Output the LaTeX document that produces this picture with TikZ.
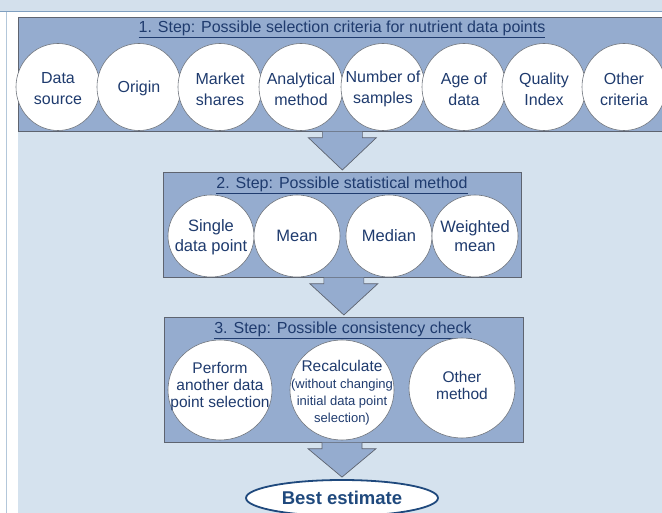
\documentclass[tikz,border=0pt]{standalone}
\usepackage{fontspec}
\setmainfont{Liberation Sans}
\usetikzlibrary{shapes.geometric,calc}
\definecolor{panel}{HTML}{D5E2EE}
\definecolor{topband}{HTML}{D3E0EC}
\definecolor{topline}{HTML}{7F9FC0}
\definecolor{sideline}{HTML}{B3C7DA}
\definecolor{boxfill}{HTML}{95ACCF}
\definecolor{boxline}{HTML}{5E6470}
\definecolor{circline}{HTML}{70757D}
\definecolor{txt}{HTML}{1F3B6E}
\definecolor{bestline}{HTML}{1F497D}
\newcommand\smalltxt{\fontsize{13}{15.5}\selectfont}
\tikzset{
  stepbox/.style={draw=boxline, line width=0.7pt, fill=boxfill, inner sep=0pt, anchor=north west},
  steptitle/.style={text=txt, font=\fontsize{16}{19}\selectfont, inner sep=0pt},
  crit/.style={ellipse, draw=circline, line width=0.6pt, fill=white, inner sep=0pt},
  ctext/.style={text=txt, align=center, inner sep=0pt, font=\fontsize{16}{21}\selectfont},
  ctext2/.style={ctext, font=\fontsize{16.5}{19.5}\selectfont},
  ctext3/.style={ctext, font=\fontsize{15.5}{17}\selectfont},
  blockarr/.style={draw=boxline, line width=0.7pt, fill=boxfill, line join=miter},
  best/.style={ellipse, draw=bestline, line width=1.8pt, fill=white, text=bestline,
     font=\fontsize{18.5}{22}\selectfont\bfseries, inner sep=0pt, minimum width=192pt, minimum height=36pt}
}
\newcommand\blockarrow[2]{%
  \fill[boxfill] let \p1=(#1.south), \p2=(#2.north) in
    (\x2-20pt,\y1) -- (\x2-20pt,\y1-6pt) -- (\x2-34pt,\y1-6pt) -- (\x2,\y2+2pt)
    -- (\x2+34pt,\y1-6pt) -- (\x2+20pt,\y1-6pt) -- (\x2+20pt,\y1) -- cycle;
  \draw[blockarr, fill=none] let \p1=(#1.south), \p2=(#2.north) in
    (\x2-20pt,\y1) -- (\x2-20pt,\y1-6pt) -- (\x2-34pt,\y1-6pt) -- (\x2,\y2+2pt)
    -- (\x2+34pt,\y1-6pt) -- (\x2+20pt,\y1-6pt) -- (\x2+20pt,\y1);
}
\begin{document}
\begin{tikzpicture}[x=1pt,y=-1pt]
\useasboundingbox (0,0) rectangle (662,513);
% frame
\fill[white] (0,0) rectangle (662,513);
\fill[topband] (0,0) rectangle (662,11);
\draw[topline, line width=1.2pt] (0,11.5) -- (662,11.5);
\draw[sideline, line width=1.5pt] (6.5,12) -- (6.5,513);
\fill[panel] (18,17) rectangle (662,513);
% boxes
\node[stepbox, minimum width=648pt, minimum height=114pt] (b1) at (18,17) {};
\node[stepbox, minimum width=358pt, minimum height=105pt] (b2) at (163,172) {};
\node[stepbox, minimum width=359pt, minimum height=125pt] (b3) at (164,317) {};
% titles
\node[steptitle] (t1) at (342,29) {\underline{1. Step: Possible selection criteria for nutrient data points}};
\node[steptitle] (t2) at (342,185) {\underline{2. Step: Possible statistical method}};
\node[steptitle] (t3) at (343,330) {\underline{3. Step: Possible consistency check}};
% step 1 criteria
\tikzset{c1/.style={crit, minimum width=84pt, minimum height=87pt}}
\node[c1] (s1a) at (58,87)  {};
\node[c1] (s1b) at (139,87) {};
\node[c1] (s1c) at (220,87) {};
\node[c1] (s1d) at (301,87) {};
\node[c1] (s1e) at (383,87) {};
\node[c1] (s1f) at (464,87) {};
\node[c1] (s1g) at (544,87) {};
\node[c1] (s1h) at (624,87) {};
\node[ctext] (l1a) at ([yshift=-2pt]s1a.center) {Data\\source};
\node[ctext] (l1b) at ([yshift=-1pt]s1b.center) {Origin};
\node[ctext] (l1c) at ([yshift=-2pt]s1c.center) {Market\\shares};
\node[ctext] (l1d) at ([yshift=-2pt]s1d.center) {Analytical\\method};
\node[ctext] (l1e) at ([yshift=-2pt]s1e.center) {Number of\\samples};
\node[ctext] (l1f) at ([yshift=-2pt]s1f.center) {Age of\\data};
\node[ctext] (l1g) at ([yshift=-2pt]s1g.center) {Quality\\Index};
\node[ctext] (l1h) at ([yshift=-2pt]s1h.center) {Other\\criteria};
% step 2
\tikzset{c2/.style={crit, minimum width=86pt, minimum height=82pt}}
\node[c2] (s2a) at (211,236) {};
\node[c2] (s2b) at (297,236) {};
\node[c2] (s2c) at (389,236) {};
\node[c2] (s2d) at (475,236) {};
\node[ctext2] (l2a) at ([yshift=-1pt]s2a.center) {Single\\data point};
\node[ctext2] (l2b) at (s2b) {Mean};
\node[ctext2] (l2c) at (s2c) {Median};
\node[ctext2] (l2d) at (s2d) {Weighted\\mean};
% step 3
\tikzset{c3/.style={crit, minimum width=104pt, minimum height=100pt}}
\node[c3] (s3a) at (220,390) {};
\node[c3] (s3b) at (342,390) {};
\node[c3, minimum width=106pt] (s3c) at (462,388) {};
\node[ctext3] (l3a) at ([yshift=4pt]s3a.center) {Perform\\another data\\point selection};
\node[ctext3] (l3b) at ([yshift=-3pt]s3b.center) {Recalculate\\\smalltxt(without changing\\\smalltxt initial data point\\\smalltxt selection)};
\node[ctext3] (l3c) at ([yshift=3pt]s3c.center) {Other\\method};
% result
\node[best] (be) at (342,498) {Best estimate};
% arrows
\blockarrow{b1}{b2}
\blockarrow{b2}{b3}
\blockarrow{b3}{be}
\end{tikzpicture}
\end{document}
